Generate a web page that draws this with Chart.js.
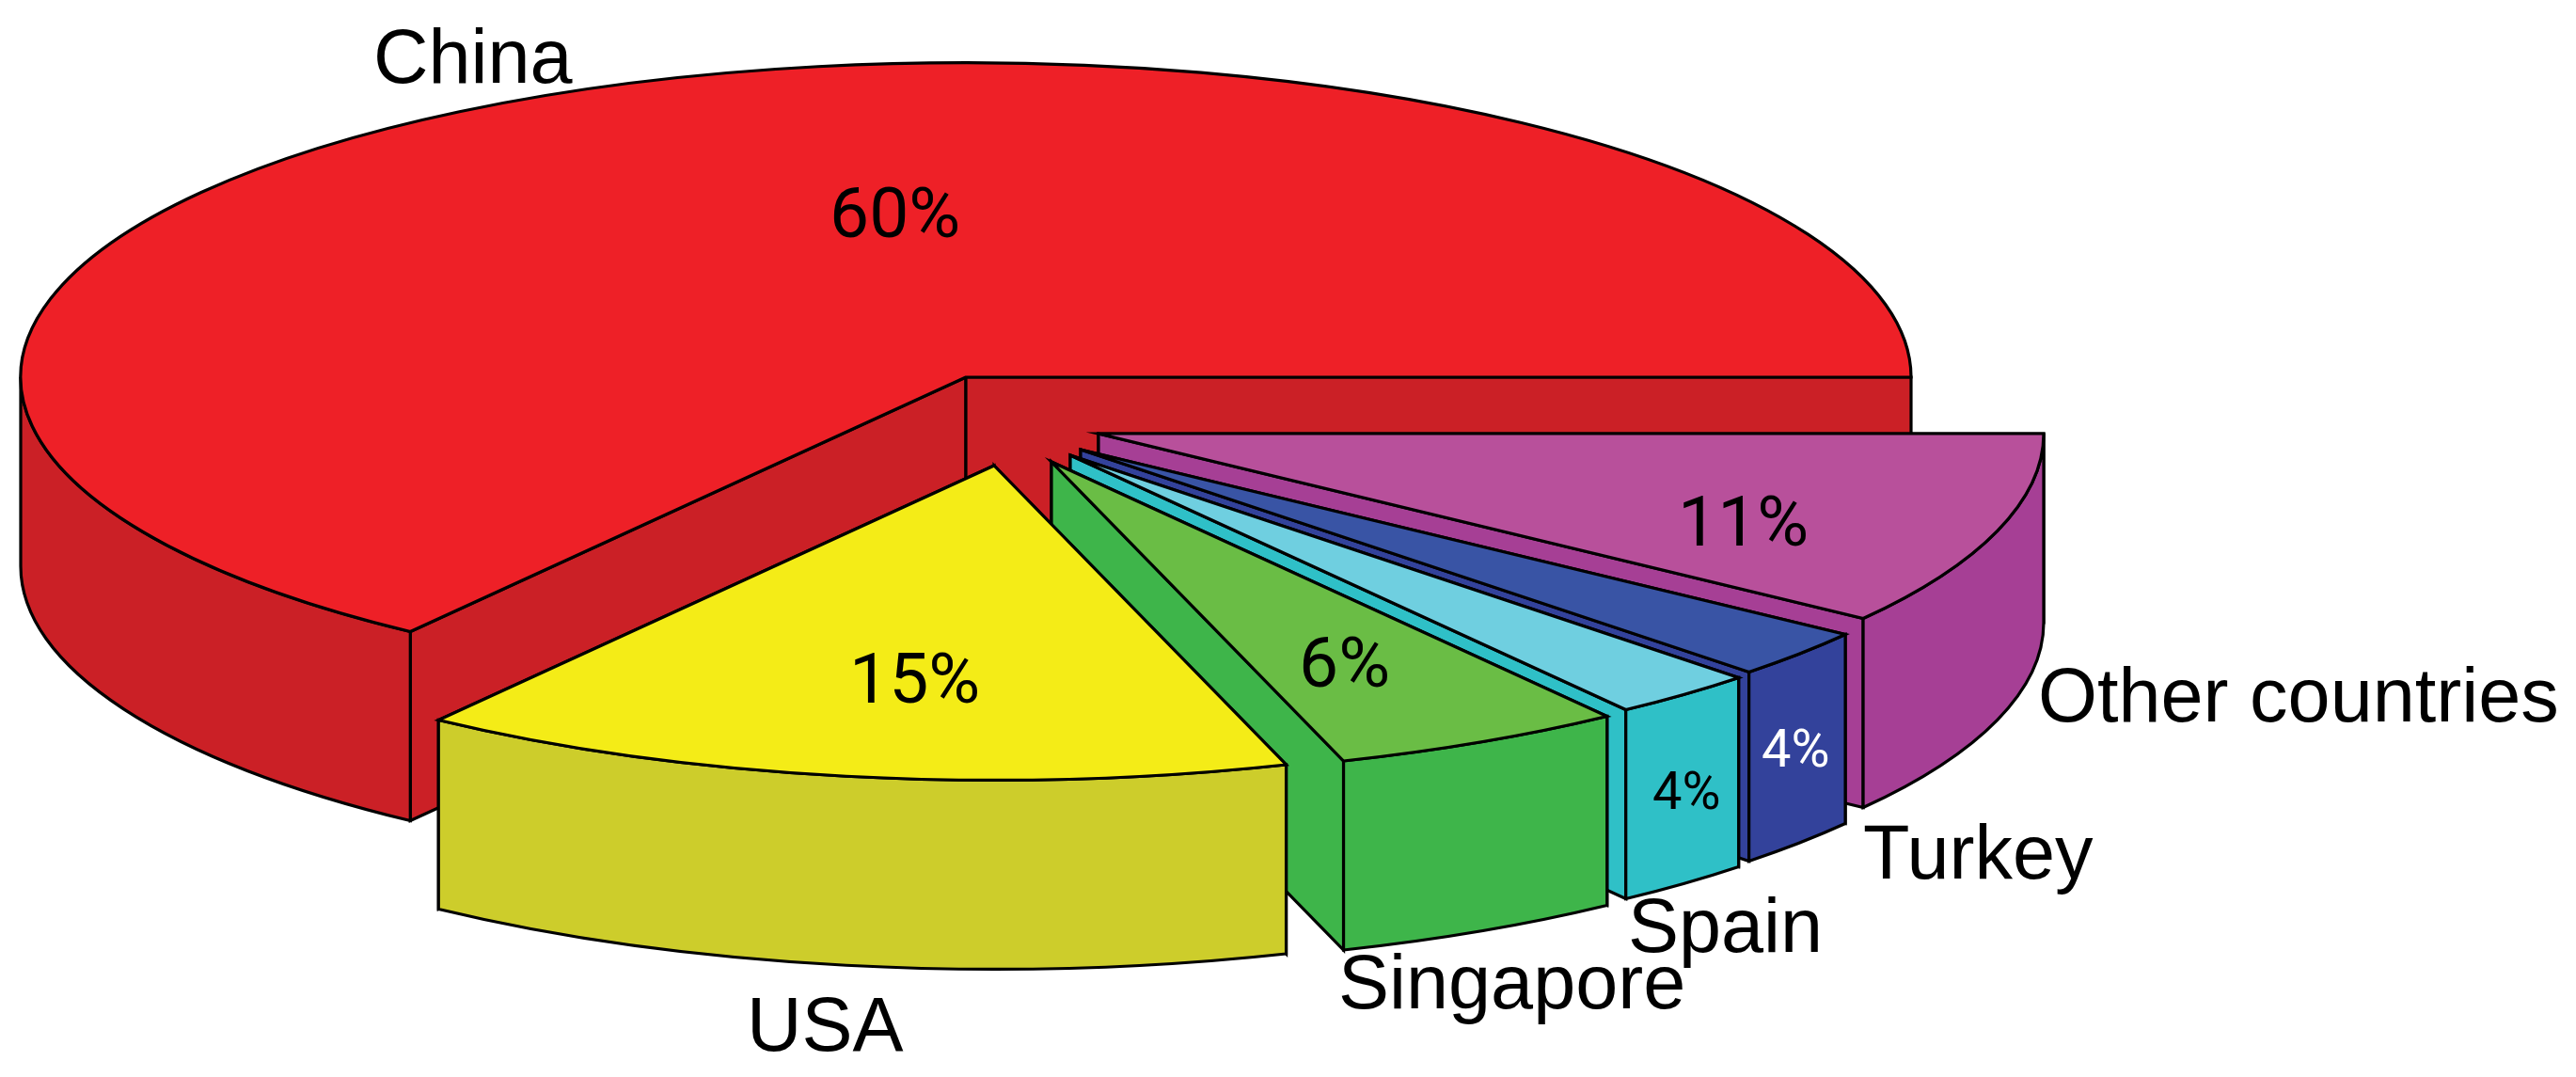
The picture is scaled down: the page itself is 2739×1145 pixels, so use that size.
<!DOCTYPE html>
<html>
<head>
<meta charset="utf-8">
<title>Share by country</title>
<script src="https://cdn.jsdelivr.net/npm/chart.js@4"></script>
<style>
  html, body { margin: 0; padding: 0; background: #fff; }
  canvas { display: block; }
</style>
</head>
<body>
<canvas id="pieChart" width="2739" height="1145"></canvas>
<script>
// clockwise from the China slice
const countries = ['China', 'Other countries', 'Turkey', 'Spain', 'Singapore', 'USA'];
// slice sizes as they are drawn in the picture (they differ a bit from the printed numbers)
const drawnShare = [65, 10, 2.5, 2.5, 5, 15];
const printedPercent = [60, 11, 4, 4, 6, 15];

const topColors = ['#ee2027', '#b8509b', '#3954a5', '#6fcfe0', '#6abd45', '#f4ec17'];
const wallColors = ['#cb2026', '#a63f95', '#33429b', '#2fc0c7', '#3eb54a', '#cdcd2b'];

// 3D look
const squash = 0.3327;
const depth = 201;
const explode = [[0, 0], [141, 60], [122, 77], [111, 83], [91, 90], [30, 94]];

// text placement, left edge + baseline
const namePlaces = [[397, 88], [2167, 767], [1981, 934], [1731, 1012], [1423, 1072], [794, 1117]];
const percentPlaces = [[882, 252], [1784, 580], [1873, 815], [1757, 860], [1381, 730], [903, 747]];
const percentSizes = [75, 75, 56, 56, 75, 75];
const percentColors = ['#000', '#000', '#fff', '#000', '#000', '#000'];

function fillAndStroke(ctx, fill) {
    ctx.fillStyle = fill;
    ctx.fill();
    ctx.stroke();
}

function drawCutWall(ctx, x, y, r, angle, fill) {
    const ex = x + r * Math.cos(angle);
    const ey = y + r * squash * Math.sin(angle);
    ctx.beginPath();
    ctx.moveTo(x, y);
    ctx.lineTo(ex, ey);
    ctx.lineTo(ex, ey + depth);
    ctx.lineTo(x, y + depth);
    ctx.closePath();
    fillAndStroke(ctx, fill);
}

function drawOuterWall(ctx, x, y, r, from, to, fill) {
    // only the part of the rim that faces the viewer
    const lo = Math.max(from, 0);
    const hi = Math.min(to, Math.PI);
    if (hi <= lo) return;
    ctx.beginPath();
    ctx.ellipse(x, y, r, r * squash, 0, lo, hi);
    ctx.lineTo(x + r * Math.cos(hi), y + r * squash * Math.sin(hi) + depth);
    ctx.ellipse(x, y + depth, r, r * squash, 0, hi, lo, true);
    ctx.closePath();
    fillAndStroke(ctx, fill);
}

function drawTop(ctx, x, y, r, from, to, fill) {
    ctx.beginPath();
    ctx.moveTo(x, y);
    ctx.ellipse(x, y, r, r * squash, 0, from, to);
    ctx.closePath();
    fillAndStroke(ctx, fill);
}

const tiltedPie = {
    id: 'tiltedPie',
    beforeDatasetsDraw(chart) {
        const ctx = chart.ctx;
        const arcs = chart.getDatasetMeta(0).data;
        ctx.save();
        ctx.strokeStyle = '#000';
        ctx.lineWidth = 3.2;
        ctx.lineJoin = 'miter';
        arcs.forEach((arc, i) => {
            const x = arc.x + explode[i][0];
            const y = arc.y + explode[i][1];
            const r = arc.outerRadius;
            let from = arc.startAngle;
            let to = arc.endAngle;
            if (from >= 2 * Math.PI - 1e-6) {
                from -= 2 * Math.PI;
                to -= 2 * Math.PI;
            }
            drawCutWall(ctx, x, y, r, from, wallColors[i]);
            drawCutWall(ctx, x, y, r, to, wallColors[i]);
            drawOuterWall(ctx, x, y, r, from, to, wallColors[i]);
            drawTop(ctx, x, y, r, from, to, topColors[i]);
        });

        ctx.textAlign = 'left';
        ctx.textBaseline = 'alphabetic';
        countries.forEach((name, i) => {
            ctx.font = '81px "Liberation Sans", Arial, sans-serif';
            ctx.fillStyle = '#000';
            ctx.fillText(name, namePlaces[i][0], namePlaces[i][1]);
            ctx.font = percentSizes[i] + 'px Roboto, sans-serif';
            ctx.fillStyle = percentColors[i];
            ctx.fillText(printedPercent[i] + '%', percentPlaces[i][0], percentPlaces[i][1]);
        });
        ctx.restore();
        return false; // the flat pie itself is not painted
    }
};

new Chart(document.getElementById('pieChart'), {
    type: 'pie',
    data: {
        labels: countries,
        datasets: [{
            data: drawnShare,
            backgroundColor: topColors,
            borderWidth: 0,
            radius: 1005
        }]
    },
    options: {
        responsive: false,
        animation: false,
        rotation: 216,
        layout: { padding: { left: 0, top: 0, right: 685, bottom: 343 } },
        plugins: { legend: { display: false }, tooltip: { enabled: false } }
    },
    plugins: [tiltedPie]
});
</script>
</body>
</html>
